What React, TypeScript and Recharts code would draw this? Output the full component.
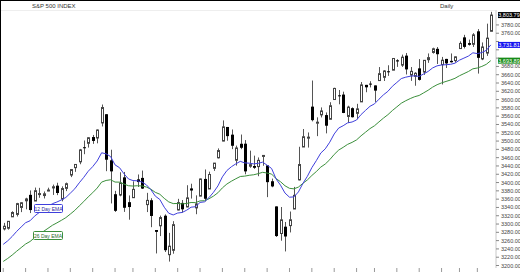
import React from 'react';
import { Bar, ComposedChart, Line, ReferenceLine, XAxis, YAxis } from 'recharts';

const dates = [
  '8/3', '8/4', '8/5', '8/6', '8/7', '8/10', '8/11', '8/12', '8/13', '8/14',
  '8/17', '8/18', '8/19', '8/20', '8/21', '8/24', '8/25', '8/26', '8/27', '8/28',
  '8/31', '9/1', '9/2', '9/3', '9/4', '9/8', '9/9', '9/10', '9/11', '9/14',
  '9/15', '9/16', '9/17', '9/18', '9/21', '9/22', '9/23', '9/24', '9/25', '9/28',
  '9/29', '9/30', '10/1', '10/2', '10/5', '10/6', '10/7', '10/8', '10/9', '10/12',
  '10/13', '10/14', '10/15', '10/16', '10/19', '10/20', '10/21', '10/22', '10/23', '10/26',
  '10/27', '10/28', '10/29', '10/30', '11/2', '11/3', '11/4', '11/5', '11/6', '11/9',
  '11/10', '11/11', '11/12', '11/13', '11/16', '11/17', '11/18', '11/19', '11/20', '11/23',
  '11/24', '11/25', '11/27', '11/30', '12/1', '12/2', '12/3', '12/4', '12/7', '12/8',
  '12/9', '12/10', '12/11', '12/14', '12/15', '12/16', '12/17', '12/18', '12/21', '12/22',
  '12/23', '12/24', '12/28', '12/29', '12/30', '12/31', '1/4', '1/5', '1/6', '1/7',
];

const opens = [
  3288.26, 3289.92, 3317.37, 3323.17, 3340.05, 3356.04, 3370.34, 3355.46, 3372.95, 3368.66,
  3380.86, 3387.04, 3392.51, 3360.48, 3386.01, 3418.09, 3435.95, 3449.97, 3485.14, 3494.69,
  3509.73, 3507.44, 3543.76, 3564.74, 3453.6, 3371.88, 3369.82, 3412.53, 3352.7, 3363.56,
  3407.73, 3411.23, 3346.86, 3357.38, 3285.57, 3295.75, 3320.11, 3226.14, 3236.66, 3333.9,
  3350.92, 3341.21, 3385.87, 3338.94, 3367.27, 3408.74, 3384.56, 3434.28, 3459.67, 3500.02,
  3534.01, 3515.47, 3453.72, 3493.5, 3493.66, 3439.38, 3439.91, 3438.5, 3464.9, 3441.42,
  3403.15, 3342.48, 3277.17, 3293.59, 3296.2, 3336.25, 3406.46, 3485.74, 3508.34, 3583.04,
  3543.26, 3563.22, 3562.67, 3552.57, 3600.16, 3610.31, 3612.09, 3559.41, 3579.31, 3566.82,
  3594.52, 3635.5, 3638.55, 3634.18, 3645.87, 3653.78, 3668.28, 3670.94, 3694.73, 3683.05,
  3705.98, 3659.13, 3656.08, 3675.27, 3666.41, 3696.25, 3713.65, 3722.39, 3684.28, 3698.08,
  3693.42, 3694.03, 3723.03, 3750.01, 3736.19, 3733.27, 3764.61, 3698.02, 3712.2, 3764.71,
];

const highs = [
  3302.73, 3306.84, 3330.77, 3351.03, 3352.54, 3363.29, 3381.01, 3387.89, 3387.24, 3378.51,
  3387.59, 3395.06, 3399.54, 3390.8, 3399.96, 3432.09, 3444.21, 3481.07, 3501.38, 3509.23,
  3514.77, 3528.03, 3588.11, 3564.85, 3479.15, 3379.97, 3424.77, 3425.55, 3368.95, 3402.93,
  3419.48, 3428.92, 3375.17, 3362.27, 3285.57, 3320.31, 3323.35, 3278.7, 3306.88, 3360.74,
  3357.92, 3393.56, 3397.18, 3369.1, 3409.57, 3431.56, 3426.26, 3447.28, 3482.34, 3549.85,
  3534.01, 3527.94, 3489.08, 3515.76, 3502.42, 3476.93, 3464.86, 3460.53, 3466.46, 3441.42,
  3409.51, 3342.48, 3341.05, 3304.93, 3330.14, 3389.49, 3486.25, 3529.05, 3520.76, 3645.99,
  3557.22, 3581.16, 3569.02, 3593.66, 3628.51, 3623.11, 3619.09, 3585.22, 3581.23, 3589.81,
  3642.31, 3635.5, 3644.31, 3634.18, 3678.45, 3670.96, 3682.73, 3699.2, 3697.41, 3708.45,
  3712.39, 3678.49, 3665.91, 3697.61, 3695.29, 3711.27, 3725.12, 3726.7, 3702.9, 3698.26,
  3711.24, 3703.82, 3740.51, 3756.12, 3744.63, 3760.2, 3769.99, 3737.83, 3783.04, 3811.55,
];

const lows = [
  3284.53, 3286.54, 3317.37, 3318.14, 3328.72, 3335.44, 3326.44, 3355.46, 3363.35, 3361.64,
  3379.22, 3370.15, 3369.66, 3354.69, 3379.31, 3413.13, 3425.84, 3444.15, 3468.35, 3484.32,
  3493.25, 3494.6, 3535.23, 3427.41, 3349.63, 3329.27, 3366.84, 3329.25, 3310.47, 3363.56,
  3389.25, 3384.45, 3328.82, 3292.4, 3229.1, 3270.95, 3232.57, 3209.45, 3228.44, 3332.91,
  3327.54, 3340.47, 3361.39, 3323.69, 3367.27, 3354.54, 3384.56, 3428.15, 3458.07, 3499.61,
  3500.86, 3480.55, 3440.89, 3480.45, 3419.93, 3435.65, 3433.06, 3415.34, 3440.45, 3364.86,
  3388.71, 3268.89, 3259.82, 3233.94, 3279.74, 3336.25, 3405.17, 3485.74, 3484.34, 3547.48,
  3511.91, 3557.0, 3518.58, 3552.57, 3600.16, 3588.68, 3567.33, 3543.84, 3556.85, 3552.77,
  3594.52, 3617.76, 3629.33, 3594.39, 3645.87, 3644.84, 3657.17, 3670.94, 3678.88, 3678.83,
  3660.54, 3645.18, 3633.4, 3645.84, 3659.62, 3688.57, 3710.87, 3685.84, 3636.48, 3676.16,
  3689.28, 3689.32, 3723.03, 3723.31, 3730.21, 3726.88, 3662.71, 3695.07, 3705.34, 3764.71,
];

const closes = [
  3294.61, 3306.51, 3327.77, 3349.16, 3351.28, 3360.47, 3333.69, 3380.35, 3373.43, 3372.85,
  3381.99, 3389.78, 3374.85, 3385.51, 3397.16, 3431.28, 3443.62, 3478.73, 3484.55, 3508.01,
  3500.31, 3526.65, 3580.84, 3455.06, 3426.96, 3331.84, 3398.96, 3339.19, 3340.97, 3383.54,
  3401.2, 3385.49, 3357.01, 3319.47, 3281.06, 3315.57, 3236.92, 3246.59, 3298.46, 3351.6,
  3335.47, 3363.0, 3380.8, 3348.42, 3408.63, 3360.95, 3419.44, 3446.83, 3477.14, 3534.22,
  3511.93, 3488.67, 3483.34, 3483.81, 3426.92, 3443.12, 3435.56, 3453.49, 3465.39, 3400.97,
  3390.68, 3271.03, 3310.11, 3269.96, 3310.24, 3369.16, 3443.44, 3510.45, 3509.44, 3550.5,
  3545.53, 3572.66, 3537.01, 3585.15, 3626.91, 3609.53, 3567.79, 3581.87, 3557.54, 3577.59,
  3635.41, 3629.65, 3638.35, 3621.63, 3662.45, 3669.01, 3666.72, 3699.12, 3691.96, 3702.25,
  3672.82, 3668.1, 3663.46, 3647.49, 3694.62, 3701.17, 3722.48, 3709.41, 3694.92, 3687.26,
  3690.01, 3703.06, 3735.36, 3727.04, 3732.04, 3756.07, 3700.65, 3726.86, 3748.14, 3803.79,
];

// moving averages
const ema12 = [
  3251.0, 3259.5, 3270.0, 3282.2, 3292.8, 3303.2, 3307.9, 3319.0, 3327.4, 3334.4,
  3341.7, 3349.1, 3353.1, 3358.1, 3364.1, 3374.4, 3385.0, 3399.4, 3412.5, 3427.2,
  3438.4, 3452.0, 3471.8, 3469.2, 3462.7, 3442.6, 3435.9, 3421.0, 3408.7, 3404.8,
  3404.2, 3401.3, 3394.5, 3383.0, 3367.3, 3359.3, 3340.5, 3326.1, 3321.9, 3326.5,
  3327.9, 3333.3, 3340.6, 3341.8, 3352.1, 3353.5, 3363.6, 3376.4, 3391.9, 3413.8,
  3428.9, 3438.1, 3445.1, 3451.1, 3447.4, 3446.7, 3445.0, 3446.3, 3449.2, 3441.8,
  3433.9, 3408.8, 3393.6, 3374.6, 3364.7, 3365.4, 3377.4, 3397.9, 3415.1, 3435.9,
  3452.8, 3471.2, 3481.3, 3497.3, 3517.2, 3531.4, 3537.0, 3543.9, 3546.0, 3550.9,
  3563.9, 3574.0, 3583.9, 3589.7, 3600.9, 3611.4, 3619.9, 3632.1, 3641.3, 3650.7,
  3654.1, 3656.3, 3657.4, 3655.9, 3661.9, 3667.9, 3676.3, 3681.4, 3683.5, 3684.1,
  3685.0, 3687.8, 3695.1, 3700.0, 3704.9, 3712.8, 3710.9, 3713.4, 3718.7, 3731.81,
];

const ema26 = [
  3209.8, 3217.0, 3225.2, 3234.4, 3243.1, 3251.8, 3257.9, 3267.0, 3274.9, 3282.2,
  3289.6, 3297.0, 3302.8, 3308.9, 3315.4, 3324.0, 3332.9, 3343.7, 3354.1, 3365.5,
  3375.5, 3386.7, 3401.1, 3405.1, 3406.7, 3401.2, 3401.0, 3396.4, 3392.3, 3391.6,
  3392.3, 3391.8, 3389.2, 3384.0, 3376.4, 3371.9, 3361.9, 3353.4, 3349.3, 3349.5,
  3348.5, 3349.6, 3351.9, 3351.6, 3355.8, 3356.2, 3360.9, 3367.3, 3375.4, 3387.2,
  3396.4, 3403.2, 3409.1, 3414.6, 3415.5, 3417.5, 3418.8, 3421.4, 3424.7, 3422.9,
  3420.5, 3409.4, 3402.0, 3392.2, 3386.1, 3384.8, 3389.1, 3398.1, 3406.3, 3417.0,
  3426.5, 3437.3, 3444.7, 3455.1, 3467.8, 3478.3, 3484.9, 3492.1, 3496.9, 3502.9,
  3512.7, 3521.4, 3530.1, 3536.9, 3546.2, 3555.3, 3563.6, 3573.6, 3582.4, 3591.3,
  3597.3, 3602.5, 3607.0, 3610.0, 3616.3, 3622.6, 3630.0, 3635.9, 3640.3, 3643.8,
  3647.2, 3651.3, 3657.5, 3662.6, 3667.7, 3674.2, 3676.2, 3680.0, 3685.0, 3693.89,
];

const weekTicks = [
  '8/3', '8/10', '8/17', '8/24', '8/31', '9/8', '9/14', '9/21', '9/28', '10/5', '10/12', '10/19',
  '10/26', '11/2', '11/9', '11/16', '11/23', '11/30', '12/7', '12/14', '12/21', '12/28', '1/4',
];

const priceTicks = [
  3200, 3220, 3240, 3260, 3280, 3300, 3320, 3340, 3360, 3380, 3400, 3420, 3440, 3460, 3480,
  3500, 3520, 3540, 3560, 3580, 3600, 3620, 3640, 3660, 3680, 3700, 3720, 3740, 3760, 3780,
];

const data = dates.map((date, i) => ({
  date,
  open: opens[i],
  high: highs[i],
  low: lows[i],
  close: closes[i],
  range: [lows[i], highs[i]],
  ema12: ema12[i],
  ema26: ema26[i],
}));

const FONT = '"Liberation Sans", Arial, sans-serif';
const BLUE = '#3f3fdc';
const GREEN = '#3b8f3b';
const last = dates.length - 1;
const tagValues = [closes[last], ema12[last], ema26[last]];

const Candle = (props: any) => {
  const { x, y, width, height, payload } = props;
  if (!payload || x == null) return null;
  const { open, close, high, low } = payload;
  const top = Math.min(y, y + height);
  const h = Math.abs(height);
  const k = h / (high - low || 1);
  const py = (v: number) => top + (high - v) * k;
  const cx = Math.round(x + width / 2) + 0.5;
  const bTop = py(Math.max(open, close));
  const bBot = py(Math.min(open, close));
  const up = close >= open;
  return (
    <g>
      <line x1={cx} x2={cx} y1={top} y2={top + h} stroke="#555" strokeWidth={1} />
      {up ? (
        <rect x={cx - 1} y={bTop} width={2} height={Math.max(1, bBot - bTop)} fill="#fff" stroke="#444" strokeWidth={1} />
      ) : (
        <rect x={cx - 1.5} y={bTop} width={3} height={Math.max(1, bBot - bTop)} fill="#000" />
      )}
    </g>
  );
};

// price labels that sit under a coloured tag are not drawn
const PriceTick = (props: any) => {
  const { x, y, payload } = props;
  const v = payload.value;
  if (tagValues.some((t) => Math.abs(t - v) < 13)) return <g />;
  return (
    <text x={x} y={y} dy={2} fontSize={5.5} fill="#444" fontFamily={FONT} textAnchor="start">
      {v.toFixed(2)}
    </text>
  );
};

const PriceTag = ({ viewBox, text, bg }: any) => {
  if (!viewBox) return null;
  const x = viewBox.x + viewBox.width + 2;
  const y = viewBox.y;
  return (
    <g>
      <rect x={x} y={y - 3} width={22} height={6} fill={bg} />
      <text x={x + 11} y={y + 2} textAnchor="middle" fontSize={5.5} fill="#fff" fontFamily={FONT}>
        {text}
      </text>
    </g>
  );
};

const fmt = (v: number) => v.toLocaleString('en-US', { minimumFractionDigits: 2, maximumFractionDigits: 2 });

export default function App() {
  return (
    <div style={{ position: 'absolute', left: 0, top: 0, width: 520, height: 272, overflow: 'hidden', background: '#fff' }}>
      <ComposedChart width={520} height={290} data={data} margin={{ top: 10, right: 0, left: 1, bottom: 0 }}>
        <XAxis
          dataKey="date"
          ticks={weekTicks}
          interval={0}
          padding={{ left: 0, right: 3 }}
          height={22}
          axisLine={false}
          tickSize={4}
          tickLine={{ stroke: '#999' }}
          tick={() => <g />}
        />
        <YAxis
          orientation="right"
          domain={[3194, 3816]}
          allowDataOverflow
          ticks={priceTicks}
          interval={0}
          width={24}
          tickSize={3}
          tick={PriceTick}
          axisLine={{ stroke: '#c8c8c8' }}
          tickLine={{ stroke: '#888' }}
        />
        <Bar dataKey="range" barSize={3} shape={Candle} isAnimationActive={false} />
        <Line dataKey="ema26" stroke={GREEN} strokeWidth={1} dot={false} isAnimationActive={false} />
        <Line dataKey="ema12" stroke={BLUE} strokeWidth={1} dot={false} isAnimationActive={false} />
        <ReferenceLine y={closes[last]} stroke="none" ifOverflow="visible" label={<PriceTag text={fmt(closes[last])} bg="#000" />} />
        <ReferenceLine y={ema12[last]} stroke="none" ifOverflow="visible" label={<PriceTag text={fmt(ema12[last])} bg="#1616f0" />} />
        <ReferenceLine y={ema26[last]} stroke="none" ifOverflow="visible" label={<PriceTag text={fmt(ema26[last])} bg="#178a17" />} />
      </ComposedChart>
      <svg width={520} height={272} style={{ position: 'absolute', left: 0, top: 0, pointerEvents: 'none' }}>
        <line x1={0} x2={520} y1={0.5} y2={0.5} stroke="#000" />
        <line x1={0.5} x2={0.5} y1={0} y2={272} stroke="#000" />
        <line x1={1} x2={495} y1={10.5} y2={10.5} stroke="#eeeeee" />
        <text x={32} y={7.5} fontSize={6} fill="#333" fontFamily={FONT}>S&amp;P 500 INDEX</text>
        <text x={440} y={7.5} fontSize={6} fill="#333" fontFamily={FONT}>Daily</text>
        <rect x={34.5} y={204.5} width={28} height={8} fill="#fff" stroke={BLUE} rx={1} />
        <text x={48.5} y={210.5} textAnchor="middle" fontSize={5} fill="#2a2a9a" fontFamily={FONT}>12 Day EMA</text>
        <rect x={33.5} y={231.5} width={29} height={8} fill="#fff" stroke={GREEN} rx={1} />
        <text x={48} y={237.5} textAnchor="middle" fontSize={5} fill="#2a6a2a" fontFamily={FONT}>26 Day EMA</text>
      </svg>
    </div>
  );
}
